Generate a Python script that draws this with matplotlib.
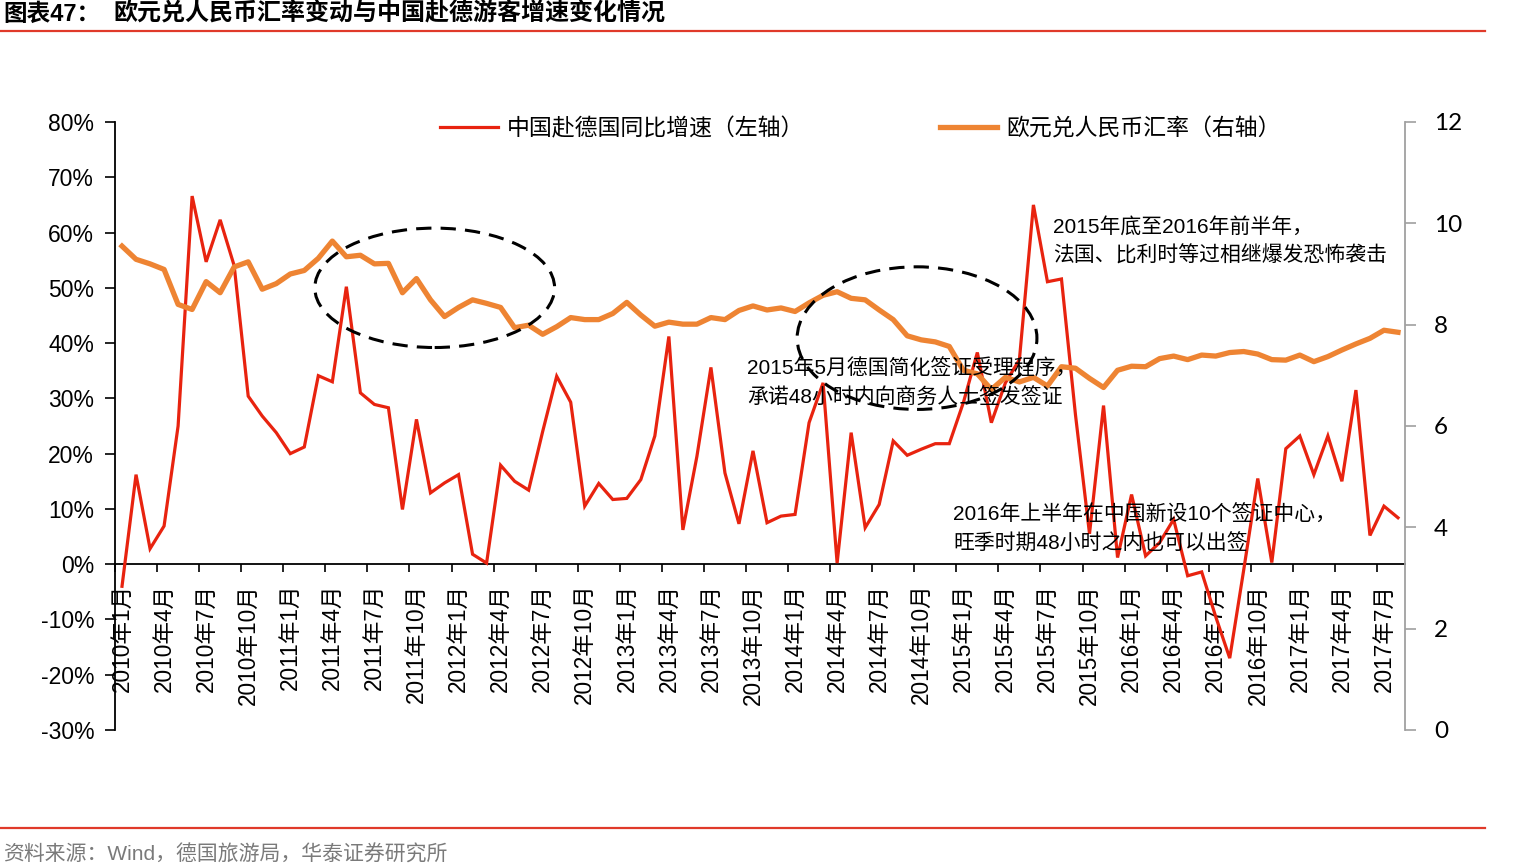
import matplotlib
matplotlib.use("Agg")
import matplotlib.pyplot as plt
from matplotlib.patches import Ellipse
from matplotlib.lines import Line2D
from matplotlib.ticker import FixedLocator, FuncFormatter

plt.rcParams['font.family'] = ['Liberation Sans', 'Noto Sans CJK SC', 'DejaVu Sans']

# ---------------- data ----------------
years = [2010, 2011, 2012, 2013, 2014, 2015, 2016, 2017]
months = [f"{y}年{m}月" for y in years for m in range(1, 13)][:92]   # 2010-01 .. 2017-08

visitor_growth = [  # 中国赴德国同比增速 (%)
    -4.0, 16.2, 2.8, 6.9, 25.0, 66.6, 54.7, 62.3, 54.0, 30.4, 26.8, 23.8,
    20.0, 21.2, 34.1, 33.0, 50.2, 31.0, 28.9, 28.3, 9.9, 26.2, 12.9, 14.7,
    16.2, 1.8, 0.2, 17.9, 15.0, 13.4, 24.0, 34.0, 29.3, 10.5, 14.6, 11.7,
    11.9, 15.3, 23.2, 41.2, 6.2, 19.5, 35.6, 16.5, 7.3, 20.5, 7.5, 8.7,
    9.0, 25.6, 32.8, 0.2, 23.8, 6.6, 10.8, 22.3, 19.7, 20.8, 21.8, 21.8,
    29.2, 38.3, 25.6, 32.8, 37.0, 65.0, 51.1, 51.6, 27.0, 5.5, 28.7, 1.2,
    12.6, 1.5, 3.9, 8.1, -2.1, -1.4, -9.5, -17.0, -1.0, 15.5, 0.3, 20.9,
    23.2, 16.2, 23.2, 15.0, 31.5, 5.2, 10.5, 8.4,
]

eur_cny = [  # 欧元兑人民币汇率
    9.55, 9.29, 9.20, 9.09, 8.40, 8.30, 8.85, 8.63, 9.14, 9.24, 8.70, 8.81,
    9.00, 9.07, 9.31, 9.65, 9.34, 9.37, 9.20, 9.21, 8.63, 8.91, 8.49, 8.16,
    8.34, 8.49, 8.42, 8.34, 7.94, 7.99, 7.81, 7.96, 8.14, 8.10, 8.10, 8.22,
    8.44, 8.19, 7.97, 8.05, 8.01, 8.01, 8.14, 8.10, 8.28, 8.37, 8.29, 8.33,
    8.26, 8.43, 8.58, 8.65, 8.52, 8.49, 8.29, 8.10, 7.78, 7.70, 7.66, 7.57,
    7.10, 7.03, 6.72, 6.96, 6.87, 6.96, 6.79, 7.17, 7.14, 6.94, 6.76, 7.10,
    7.18, 7.17, 7.33, 7.38, 7.31, 7.40, 7.38, 7.45, 7.47, 7.42, 7.31, 7.30,
    7.40, 7.27, 7.37, 7.50, 7.62, 7.73, 7.89, 7.85,
]

left_ticks = [-30, -20, -10, 0, 10, 20, 30, 40, 50, 60, 70, 80]
right_ticks = [0, 2, 4, 6, 8, 10, 12]

series_names = ["中国赴德国同比增速（左轴）", "欧元兑人民币汇率（右轴）"]
title_prefix = "图表47："
title_text = "欧元兑人民币汇率变动与中国赴德游客增速变化情况"
source_text = "资料来源：Wind，德国旅游局，华泰证券研究所"
notes = [
    ("2015年5月德国简化签证受理程序，\n承诺48小时内向商务人士签发签证", 747, 383),
    ("2015年底至2016年前半年，\n法国、比利时等过相继爆发恐怖袭击", 1053, 241),
    ("2016年上半年在中国新设10个签证中心，\n旺季时期48小时之内也可以出签", 953, 529),
]
# ellipses: (center x index, center y %, width in months, height in %)
ellipses = [(22.3, 50.0, 17.1, 21.6), (56.7, 40.9, 17.1, 25.8)]

RED = "#E8230F"
ORANGE = "#EE8433"
W, H = 1521, 867

# ---------------- figure ----------------
fig = plt.figure(figsize=(W / 100, H / 100), dpi=100)
fig.patch.set_facecolor("white")

def fx(px):
    return px / W

def fy(py):
    return 1 - py / H

ax = fig.add_axes([fx(115), fy(730), fx(1405) - fx(115), fy(122) - fy(730)])
ax2 = ax.twinx()

n = len(months)
x = list(range(n))

ax.plot(x, visitor_growth, color=RED, lw=2.3, solid_joinstyle="miter", zorder=3)
ax2.plot(x, eur_cny, color=ORANGE, lw=3.8, solid_joinstyle="round", zorder=3)

ax.set_xlim(-0.5, n - 0.5)
ax.set_ylim(-30, 80)
ax2.set_ylim(0, 12)

# left axis
ax.set_yticks(left_ticks)
ax.yaxis.set_major_formatter(FuncFormatter(lambda v, p: f"{v:.0f}%"))
ax.tick_params(axis="y", direction="out", length=7, width=1.2, pad=8,
               labelsize=16.5, colors="black")
ax.spines["left"].set_linewidth(1.3)
ax.spines["top"].set_visible(False)
ax.spines["right"].set_visible(False)
ax.spines["bottom"].set_position(("data", 0))
ax.spines["bottom"].set_linewidth(1.3)

# x axis: tick marks between categories, labels every 3 months
ax.xaxis.set_major_locator(FixedLocator([i - 0.5 for i in range(0, n + 1, 3)]))
ax.xaxis.set_major_formatter(FuncFormatter(lambda v, p: ""))
ax.xaxis.set_minor_locator(FixedLocator(list(range(0, n, 3))))
ax.set_xticklabels([months[i] for i in range(0, n, 3)], minor=True,
                   rotation=90, fontsize=16.3, va="top", ha="center")
ax.tick_params(axis="x", which="major", direction="out", length=6, width=1.2)
ax.tick_params(axis="x", which="minor", length=0, pad=14)

# right axis
ax2.set_yticks(right_ticks)
ax2.set_yticklabels([str(v) for v in right_ticks], fontfamily="Lato", fontsize=17.5)
ax2.tick_params(axis="y", direction="out", length=8, width=1.2, pad=13,
                color="#A0A0A0", labelcolor="black")
for s in ["left", "top", "bottom"]:
    ax2.spines[s].set_visible(False)
ax2.spines["right"].set_color("#A0A0A0")
ax2.spines["right"].set_linewidth(1.3)

# dashed ellipses
for cx, cy, w, h in ellipses:
    e = Ellipse((cx, cy), w, h, transform=ax.transData, fill=False,
                edgecolor="black", lw=2.2, linestyle=(0, (5, 3)), zorder=5)
    ax2.add_patch(e)

# legend
handles = [Line2D([], [], color=RED, lw=2.3), Line2D([], [], color=ORANGE, lw=3.8)]
leg = fig.legend(handles, series_names, loc="center left",
                 bbox_to_anchor=(fx(440), fy(129)), bbox_transform=fig.transFigure,
                 ncol=2, frameon=False, handlelength=2.53,
                 handletextpad=0.39, columnspacing=5.9, borderpad=0,
                 borderaxespad=0, prop={"family": ["Noto Sans CJK SC"], "size": 16.5})

# annotations
for txt, px, py in notes:
    fig.text(fx(px), fy(py), txt, fontsize=15, ha="left", va="center",
             linespacing=1.55, family=["Liberation Sans", "Noto Sans CJK SC"], zorder=10)

# title & rules
fig.text(fx(3), fy(14), title_prefix, fontsize=17, fontweight="bold",
         ha="left", va="center", family=["Liberation Sans", "Noto Sans CJK SC"])
fig.text(fx(113), fy(14), title_text, fontsize=17.3, fontweight="bold",
         ha="left", va="center", family=["Noto Sans CJK SC"])
fig.add_artist(Line2D([0, fx(1485)], [fy(31), fy(31)], color="#E03A2A", lw=1.6,
                      transform=fig.transFigure))
fig.add_artist(Line2D([0, fx(1485)], [fy(828), fy(828)], color="#E03A2A", lw=1.6,
                      transform=fig.transFigure))
fig.text(fx(3), fy(855), source_text, fontsize=15, color="#7A7A7A",
         ha="left", va="center", family=["Liberation Sans", "Noto Sans CJK SC"])

fig.savefig("out.png", dpi=100, facecolor="white")
